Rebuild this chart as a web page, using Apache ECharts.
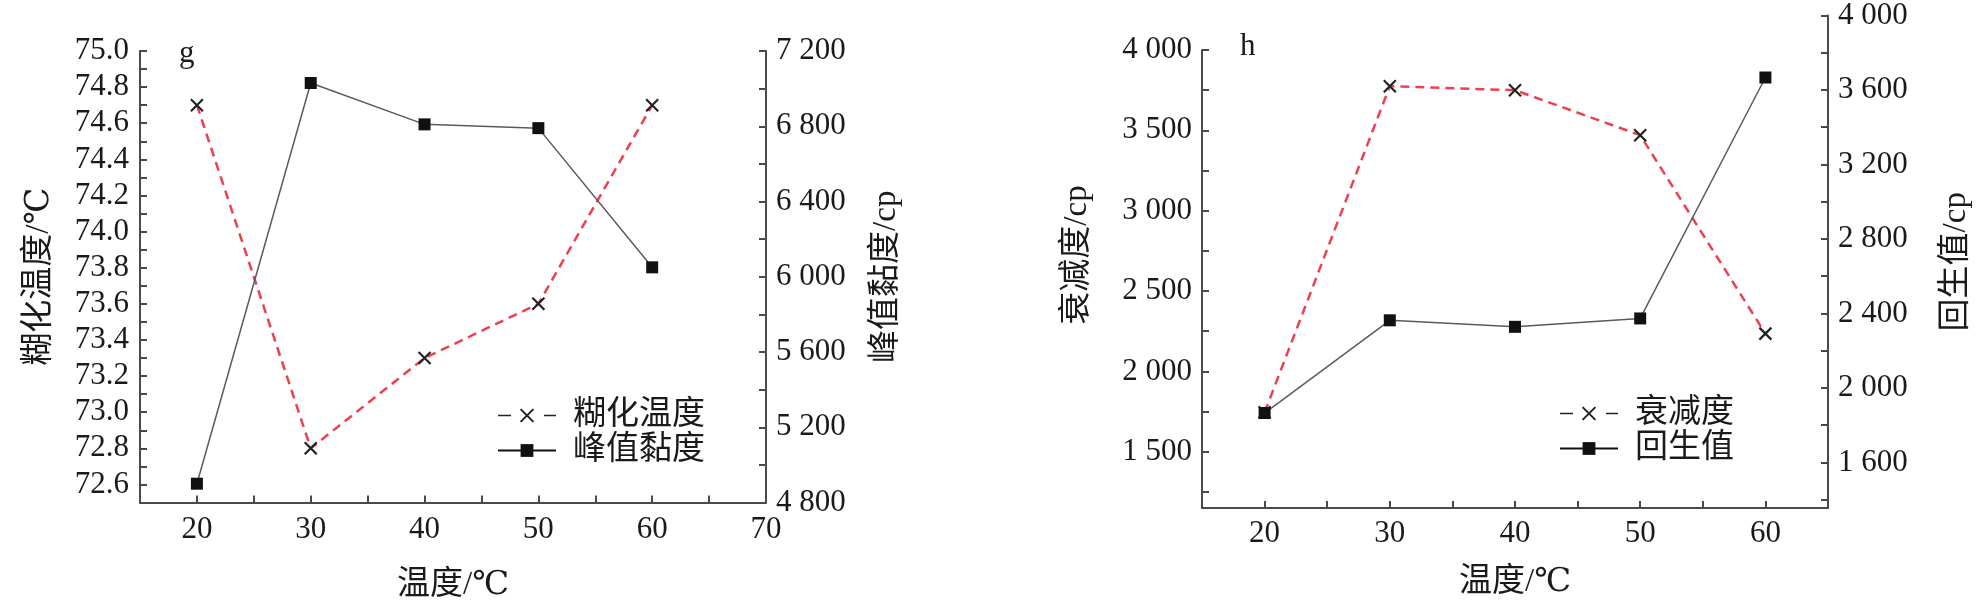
<!DOCTYPE html>
<html>
<head>
<meta charset="utf-8">
<script src="https://cdn.jsdelivr.net/npm/echarts@6/dist/echarts.min.js"></script>
<style>
html,body{margin:0;padding:0;background:#fff;}
#c{width:1977px;height:609px;}
</style>
</head>
<body>
<div id="c"></div>
<script>
// ---- data ----
const temps = [20, 30, 40, 50, 60];
const gelTemp = [74.7, 72.8, 73.3, 73.6, 74.7];       // 糊化温度 /℃
const peakVisc = [4900, 7030, 6810, 6790, 6050];      // 峰值黏度 /cp
const breakdown = [1745, 3775, 3750, 3470, 2235];     // 衰减度 /cp
const setback = [1865, 2363, 2328, 2373, 3667];       // 回生值 /cp

// tick values
const breakdownTicks = [1250, 1500, 1750, 2000, 2250, 2500, 2750, 3000, 3250, 3500, 3750, 4000];
const breakdownLabels = [1500, 2000, 2500, 3000, 3500, 4000];
const setbackTicks = [1400, 1600, 1800, 2000, 2200, 2400, 2600, 2800, 3000, 3200, 3400, 3600, 3800, 4000];
const setbackLabels = [1600, 2000, 2400, 2800, 3200, 3600, 4000];

const FONT = "'Liberation Serif', 'DejaVu Serif', 'Noto Sans CJK SC', serif";
const RED = '#ef3f4e';
const AXIS = '#4a4a4a';
const TXT = '#1a1a1a';
const CROSS = 'path://M0,0L10,10M0,10L10,0';

function pair(xs, ys) { return xs.map((x, i) => [x, ys[i]]); }
function thousands(v) {
  v = Math.round(v);
  if (v < 1000) return String(v);
  return Math.floor(v / 1000) + ' ' + String(v % 1000).padStart(3, '0');
}

const axisLineStyle = { show: true, onZero: false, lineStyle: { color: AXIS, width: 2 } };
const tickStyle = { show: true, inside: true, length: 7, lineStyle: { color: AXIS, width: 2 } };
const labelStyle = { fontSize: 31, color: TXT, fontFamily: FONT };
const nameStyle = { fontSize: 33, color: TXT, fontFamily: FONT };

const chart = echarts.init(document.getElementById('c'), null, { renderer: 'canvas' });

const crossSeries = (name, xIdx, yIdx, data) => ({
  name, type: 'line', xAxisIndex: xIdx, yAxisIndex: yIdx, data,
  symbol: CROSS, symbolSize: 12, showAllSymbol: true,
  lineStyle: { color: RED, width: 2.5, type: [9, 6] },
  itemStyle: { color: 'none', borderColor: '#222', borderWidth: 2.2 },
  silent: true, animation: false, z: 3
});
const squareSeries = (name, xIdx, yIdx, data) => ({
  name, type: 'line', xAxisIndex: xIdx, yAxisIndex: yIdx, data,
  symbol: 'rect', symbolSize: 12, showAllSymbol: true,
  lineStyle: { color: '#5a5a5a', width: 1.5 },
  itemStyle: { color: '#111', borderWidth: 0 },
  silent: true, animation: false, z: 4
});

const option = {
  backgroundColor: '#fff',
  animation: false,
  grid: [
    { left: 140, top: 51, width: 626, height: 451.5 },
    { left: 1202, top: 50, width: 626, height: 458 },
    { left: 1202, top: 13.3, width: 626, height: 494.7 }
  ],
  xAxis: [
    {
      gridIndex: 0, type: 'value', min: 15, max: 70, interval: 5,
      axisLine: axisLineStyle, axisTick: tickStyle, splitLine: { show: false },
      axisLabel: Object.assign({ margin: 12, formatter: v => (v % 10 === 0 ? String(v) : '') }, labelStyle),
      name: '温度/℃', nameLocation: 'middle', nameGap: 66, nameTextStyle: nameStyle
    },
    {
      gridIndex: 1, type: 'value', min: 15, max: 65, interval: 5,
      axisLine: axisLineStyle, axisTick: tickStyle, splitLine: { show: false },
      axisLabel: Object.assign({ margin: 10, formatter: v => (v % 10 === 0 ? String(v) : '') }, labelStyle),
      name: '温度/℃', nameLocation: 'middle', nameGap: 58, nameTextStyle: nameStyle
    },
    { gridIndex: 2, type: 'value', min: 15, max: 65, show: false }
  ],
  yAxis: [
    {
      gridIndex: 0, type: 'value', position: 'left', min: 72.5, max: 75.0, interval: 0.1,
      axisLine: axisLineStyle, axisTick: tickStyle, splitLine: { show: false },
      axisLabel: Object.assign({ margin: 11, formatter: v => (Math.round(v * 10) % 2 === 0 ? v.toFixed(1) : '') }, labelStyle),
      name: '糊化温度/℃', nameLocation: 'middle', nameGap: 84, nameTextStyle: nameStyle
    },
    {
      gridIndex: 0, type: 'value', position: 'right', min: 4800, max: 7200, interval: 200,
      axisLine: axisLineStyle, axisTick: tickStyle, splitLine: { show: false },
      axisLabel: Object.assign({ margin: 10, formatter: v => (Math.round(v) % 400 === 0 ? thousands(v) : '') }, labelStyle),
      name: '峰值黏度/cp', nameLocation: 'middle', nameGap: 104, nameTextStyle: nameStyle
    },
    {
      gridIndex: 1, type: 'value', position: 'left', min: 1150, max: 4000,
      axisLine: axisLineStyle,
      axisTick: Object.assign({ customValues: breakdownTicks }, tickStyle),
      splitLine: { show: false },
      axisLabel: Object.assign({ margin: 10, customValues: breakdownLabels, formatter: v => thousands(v) }, labelStyle),
      name: '衰减度/cp', nameLocation: 'middle', nameGap: 108,
      nameTextStyle: Object.assign({ padding: [0, 0, 0, 48] }, nameStyle)
    },
    {
      gridIndex: 2, type: 'value', position: 'right', min: 1355, max: 4000,
      axisLine: axisLineStyle,
      axisTick: Object.assign({ customValues: setbackTicks }, tickStyle),
      splitLine: { show: false },
      axisLabel: Object.assign({ margin: 10, customValues: setbackLabels, formatter: v => thousands(v) }, labelStyle),
      name: '回生值/cp', nameLocation: 'middle', nameGap: 112, nameTextStyle: nameStyle
    }
  ],
  legend: [
    {
      orient: 'vertical', left: 492, top: 394, itemWidth: 58, itemHeight: 16, itemGap: 2,
      selectedMode: false, textStyle: Object.assign({ padding: [0, 0, 0, 12] }, nameStyle),
      data: [
        { name: '糊化温度', lineStyle: { color: '#222', width: 1.5, type: [13, 33] } },
        { name: '峰值黏度', lineStyle: { color: '#111', width: 2, type: 'solid' } }
      ]
    },
    {
      orient: 'vertical', left: 1554, top: 392, itemWidth: 58, itemHeight: 16, itemGap: 2,
      selectedMode: false, textStyle: Object.assign({ padding: [0, 0, 0, 12] }, nameStyle),
      data: [
        { name: '衰减度', lineStyle: { color: '#222', width: 1.5, type: [13, 33] } },
        { name: '回生值', lineStyle: { color: '#111', width: 2, type: 'solid' } }
      ]
    }
  ],
  graphic: [
    { type: 'text', left: 179, top: 38, style: { text: 'g', font: "31px 'Liberation Serif'", fill: TXT } },
    { type: 'text', left: 1240, top: 31, style: { text: 'h', font: "31px 'Liberation Serif'", fill: TXT } }
  ],
  series: [
    crossSeries('糊化温度', 0, 0, pair(temps, gelTemp)),
    squareSeries('峰值黏度', 0, 1, pair(temps, peakVisc)),
    crossSeries('衰减度', 1, 2, pair(temps, breakdown)),
    squareSeries('回生值', 2, 3, pair(temps, setback))
  ]
};
chart.setOption(option);
</script>
</body>
</html>
